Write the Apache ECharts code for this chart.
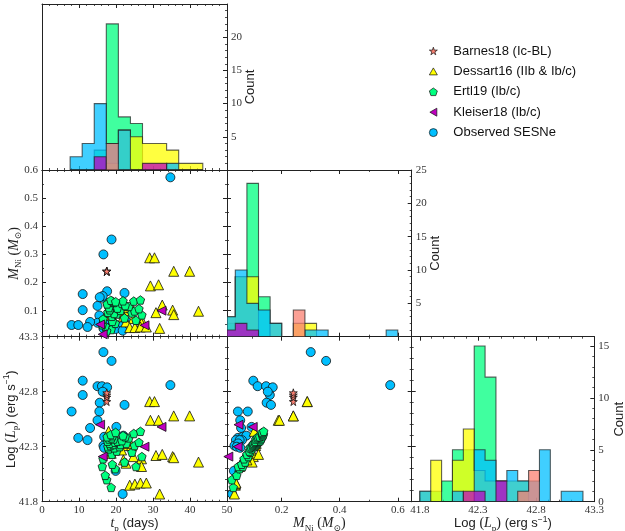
<!DOCTYPE html>
<html><head><meta charset="utf-8">
<script src="https://cdn.jsdelivr.net/npm/echarts@6/dist/echarts.min.js"></script>
<style>html,body{margin:0;padding:0;background:#fff}#c{width:625px;height:531px}</style>
</head><body><div id="c"></div>
<script>
// ================= DATA =================
const seriesNames = ['Barnes18 (Ic-BL)', 'Dessart16 (IIb & Ib/c)', 'Ertl19 (Ib/c)', 'Kleiser18 (Ib/c)', 'Observed SESNe'];

// points: [t_p (days), M_Ni (Msun), log L_p (erg/s)]
const barnesPts = [[17.5,0.240,42.71],[17.5,0.240,42.75],[17.5,0.240,42.77],[17.5,0.240,42.79]];
const dessartPts = [
  [29.1,0.288,42.71],[30.4,0.288,42.71],[35.6,0.240,42.58],[39.9,0.240,42.58],[29.3,0.188,42.54],
  [31.5,0.192,42.54],[30.8,0.093,42.22],[35.3,0.102,42.21],[35.6,0.086,42.20],[42.3,0.098,42.16],
  [24.7,0.072,42.21],[26.9,0.068,42.19],[22.7,0.060,42.15],[26.9,0.055,42.12],[23.7,0.040,41.95],
  [25.1,0.040,41.96],[26.6,0.042,41.97],[28.2,0.042,41.97],[31.8,0.037,41.87],[18.0,0.105,42.44],
  [18.7,0.085,42.24],[22.8,0.100,42.31],[24.2,0.110,42.31],[21.5,0.095,42.27],[23.0,0.112,42.33],
  [22.0,0.080,42.18],[32.5,0.120,42.23]
];
const ertlPts = [
  [18.7,0.033,41.93],[17.5,0.028,42.00],[17.1,0.045,42.04],[19.8,0.055,42.10],[16.3,0.050,42.12],
  [25.4,0.066,42.12],[19.0,0.062,42.14],[22.3,0.074,42.16],[16.5,0.070,42.19],[27.0,0.085,42.21],
  [18.9,0.080,42.23],[24.3,0.092,42.25],[20.2,0.088,42.26],[18.0,0.097,42.28],[19.5,0.090,42.29],
  [21.0,0.104,42.30],[17.8,0.094,42.30],[18.5,0.108,42.31],[25.0,0.099,42.31],[19.2,0.112,42.32],
  [21.2,0.101,42.32],[22.8,0.116,42.33],[18.3,0.103,42.33],[19.7,0.119,42.34],[26.2,0.107,42.34],
  [17.7,0.122,42.35],[20.4,0.109,42.35],[21.6,0.126,42.355],[18.1,0.111,42.37],[19.4,0.129,42.37],
  [23.5,0.115,42.38],[18.8,0.131,42.38],[22.5,0.118,42.39],[17.6,0.124,42.39],[19.1,0.133,42.40],
  [21.9,0.135,42.40],[18.6,0.137,42.41],[24.8,0.134,42.42],[19.9,0.132,42.43],[26.6,0.138,42.44]
];
const kleiserPts = [[15.7,0.051,42.50],[32.3,0.100,42.48],[27.7,0.048,42.30],[16.4,0.016,42.21]];
const observedPts = [
  [16.6,0.300,43.16],[18.8,0.353,43.08],[11.0,0.102,42.90],[11.0,0.159,42.77],[15.0,0.117,42.85],
  [16.2,0.146,42.85],[17.6,0.169,42.84],[16.4,0.152,42.80],[15.6,0.148,42.70],[15.5,0.083,42.62],
  [8.0,0.049,42.62],[22.3,0.163,42.68],[15.0,0.057,42.54],[34.7,0.574,42.86],[13.0,0.060,42.47],
  [20.1,0.096,42.48],[9.8,0.049,42.38],[12.3,0.042,42.36],[16.8,0.066,42.39],[22.0,0.078,42.40],
  [22.7,0.063,42.36],[18.7,0.055,42.36],[16.6,0.037,42.31],[19.8,0.050,42.33],[21.6,0.045,42.30],
  [16.8,0.057,42.29],[19.9,0.035,42.08],[21.8,0.029,41.87]
];

// histogram bins (start, width) and counts
const tpBinStart = 7.6, tpBinWidth = 3.26;
const tpHistErtl     = [0,0,3,22,8,7,0,0,0,0,0];
const tpHistDessart  = [0,0,0,1,6,5,4,4,3,1,1];
const tpHistObserved = [2,4,10,4,6,0,0,0,1,0,0];
const tpHistKleiser  = [0,0,2,0,0,0,1,1,0,0,0];
const tpHistBarnes   = [0,0,0,4,0,0,0,0,0,0,0];

const mniBinStart = 0.0, mniBinWidth = 0.04;
const mniHistErtl     = [2,9,23,6,0,0,0,0,0,0,0,0,0,0,0];
const mniHistDessart  = [3,9,9,0,2,0,2,2,0,0,0,0,0,0,0];
const mniHistObserved = [3,10,5,4,2,0,0,1,1,0,0,0,0,0,1];
const mniHistKleiser  = [1,2,1,0,0,0,0,0,0,0,0,0,0,0,0];
const mniHistBarnes   = [0,0,0,0,0,0,4,0,0,0,0,0,0,0,0];

const lpBinStart = 41.8, lpBinWidth = 0.0935;
const lpHistErtl     = [0,1,2,5,5,15,12,0,0,0,0,0,0,0,0];
const lpHistDessart  = [1,4,0,4,7,3,2,2,2,2,0,0,0,0,0];
const lpHistObserved = [1,0,0,1,0,5,4,2,3,2,2,5,0,1,1];
const lpHistKleiser  = [0,0,0,0,1,1,0,2,0,0,0,0,0,0,0];
const lpHistBarnes   = [0,0,0,0,0,0,0,0,0,1,3,0,0,0,0];

// axis ranges and tick labels
const tpRange = [0, 50];
const mniXRange = [0.0114, 0.648];
const mniYRange = [0.0075, 0.6];
const lpRange = [41.8, 43.3];
const lpHistRange = [41.73, 43.3];
const countTopRange = [0, 25];
const countMidRange = [0, 25];
const countLpRange = [0, 15.9];

const tpTickLabels = [0, 10, 20, 30, 40, 50];
const mniXTickLabels = [0.2, 0.4, 0.6];
const mniYTickLabels = [0.1, 0.2, 0.3, 0.4, 0.5, 0.6];
const lpTickLabels = [41.8, 42.3, 42.8, 43.3];
const countTopLabels = [5, 10, 15, 20];
const countMidLabels = [5, 10, 15, 20, 25];
const countLpLabels = [0, 5, 10, 15];

// ================= STYLE / LAYOUT =================
const SERIF = "'Liberation Serif','DejaVu Serif',serif";
const SANS = "'Liberation Sans','DejaVu Sans',sans-serif";
const AXC = '#222';
const COLORS = { barnes: '#FA8072', dessart: '#FFFF00', ertl: '#00FF7F', kleiser: '#BF00BF', observed: '#00BFFF' };
const HCOL = { barnes: 'rgba(250,128,114,0.75)', dessart: 'rgba(255,255,0,0.75)', ertl: 'rgba(0,255,127,0.75)', kleiser: 'rgba(191,0,191,0.75)', observed: 'rgba(0,191,255,0.75)' };
const SYM = {
  barnes: 'path://M50,0 L61.2,34.5 L97.6,34.5 L68.2,55.9 L79.4,90.5 L50,69.1 L20.6,90.5 L31.8,55.9 L2.4,34.5 L38.8,34.5 Z',
  dessart: 'path://M50,0 L100,87 L0,87 Z',
  ertl: 'path://M50,0 L97.6,34.5 L79.4,90.5 L20.6,90.5 L2.4,34.5 Z',
  kleiser: 'path://M0,50 L87,0 L87,100 Z',
  observed: 'circle'
};
const SYMSIZE = { barnes: 8, dessart: 10, ertl: 8.5, kleiser: 9, observed: 9 };

const cols = [[42, 185], [227, 184.7], [411.7, 182.6]];
const rows = [[4, 166], [170, 166.7], [336.7, 165]];
const gridDefs = [[0,0],[0,1],[1,1],[0,2],[1,2],[2,2]];
const grids = gridDefs.map(([c, r]) => ({ left: cols[c][0], top: rows[r][0], width: cols[c][1], height: rows[r][1], containLabel: false, outerBoundsMode: 'none' }));

function steps(min, max, step, base) {
  const out = [];
  const k0 = Math.ceil((min - base) / step - 1e-9);
  for (let k = k0; base + k * step <= max + 1e-9; k++) out.push(+(base + k * step).toFixed(6));
  return out;
}

const rich = {
  it: { fontFamily: SERIF, fontStyle: 'italic', fontSize: 14, lineHeight: 18, color: '#222' },
  rm: { fontFamily: SERIF, fontSize: 14, lineHeight: 18, color: '#222' },
  sb: { fontFamily: SERIF, fontSize: 9, lineHeight: 10, verticalAlign: 'bottom', color: '#222' },
  sa: { fontFamily: SANS, fontSize: 13, lineHeight: 18, color: '#222' },
  sp: { fontFamily: SANS, fontSize: 8.5, lineHeight: 10, verticalAlign: 'top', color: '#222' }
};
const NAME_TP = '{it|t}{sb|p}{sa| (days)}';
const NAME_MNI = '{it|M}{sb|Ni}{rm| (}{it|M}{sb|⊙}{rm|)}';
const NAME_LP = '{sa|Log }{rm|(}{it|L}{sb|p}{rm|)}{sa| (erg s}{sp|−1}{sa|)}';

const xAxis = [], yAxis = [];
function addAxis(list, dim, grid, pos, range, o) {
  const base = { type: 'value', gridIndex: grid, position: pos, min: range[0], max: range[1],
    splitLine: { show: false }, splitArea: { show: false }, minorTick: { show: false }, nameMoveOverlap: false };
  const maj = Object.assign({}, base, {
    axisLine: { show: true, onZero: false, lineStyle: { color: AXC, width: 1 } },
    axisTick: { show: !!o.major, inside: true, length: 4, customValues: o.major || [], lineStyle: { color: AXC, width: 1 } },
    axisLabel: o.labels ? { show: true, customValues: o.labels, formatter: o.fmt, margin: o.margin == null ? 4 : o.margin,
      fontFamily: SERIF, fontSize: 11, color: '#333', showMinLabel: true, showMaxLabel: true, hideOverlap: false } : { show: false }
  });
  if (o.name) {
    Object.assign(maj, { name: o.name, nameLocation: 'middle', nameGap: o.nameGap, nameRotate: o.nameRotate || 0,
      nameTextStyle: { rich: rich, fontFamily: SANS, fontSize: 13, color: '#222' } });
  }
  const idx = list.length;
  list.push(maj);
  if (o.minor) {
    list.push(Object.assign({}, base, {
      axisLine: { show: false, onZero: false },
      axisTick: { show: true, inside: true, length: 2, customValues: o.minor, lineStyle: { color: AXC, width: 0.8 } },
      axisLabel: { show: false }
    }));
  }
  return idx;
}
const fInt = v => String(Math.round(v));
const f1 = v => v.toFixed(1);

const tpMaj = steps(0, 50, 10, 0), tpMin = steps(0, 50, 2, 0);
const mniXMaj = steps(mniXRange[0], mniXRange[1], 0.2, 0), mniXMin = steps(mniXRange[0], mniXRange[1], 0.1, 0);
const mniYMaj = steps(mniYRange[0], mniYRange[1], 0.1, 0), mniYMin = steps(mniYRange[0], mniYRange[1], 0.05, 0);
const lpMaj = steps(lpRange[0], lpRange[1], 0.5, 41.8), lpMin = steps(lpRange[0], lpRange[1], 0.1, 41.8);
const lpHMaj = steps(lpHistRange[0], lpHistRange[1], 0.5, 41.8), lpHMin = steps(lpHistRange[0], lpHistRange[1], 0.1, 41.8);

const AX = [];
// grid 0: t_p histogram
AX[0] = {
  x: addAxis(xAxis, 'x', 0, 'bottom', tpRange, { major: tpMaj, minor: tpMin }),
  y: addAxis(yAxis, 'y', 0, 'right', countTopRange, { major: steps(0, 25, 5, 0), minor: steps(0, 25, 1, 0), labels: countTopLabels, fmt: fInt, name: 'Count', nameGap: 17, nameRotate: 90 })
};
addAxis(xAxis, 'x', 0, 'top', tpRange, { major: tpMaj, minor: tpMin });
addAxis(yAxis, 'y', 0, 'left', countTopRange, {});
// grid 1: M_Ni vs t_p
AX[1] = {
  x: addAxis(xAxis, 'x', 1, 'bottom', tpRange, { major: tpMaj, minor: tpMin }),
  y: addAxis(yAxis, 'y', 1, 'left', mniYRange, { major: mniYMaj, minor: mniYMin, labels: mniYTickLabels, fmt: f1, name: NAME_MNI, nameGap: 19, nameRotate: 90 })
};
addAxis(xAxis, 'x', 1, 'top', tpRange, { major: tpMaj, minor: tpMin });
addAxis(yAxis, 'y', 1, 'right', mniYRange, { major: mniYMaj, minor: mniYMin });
// grid 2: M_Ni histogram
AX[2] = {
  x: addAxis(xAxis, 'x', 2, 'bottom', mniXRange, { major: mniXMaj, minor: mniXMin }),
  y: addAxis(yAxis, 'y', 2, 'right', countMidRange, { major: steps(0, 25, 5, 0), minor: steps(0, 25, 1, 0), labels: countMidLabels, fmt: fInt, name: 'Count', nameGap: 17, nameRotate: 90 })
};
addAxis(xAxis, 'x', 2, 'top', mniXRange, { major: mniXMaj, minor: mniXMin });
addAxis(yAxis, 'y', 2, 'left', mniYRange, { major: mniYMaj, minor: mniYMin });
// grid 3: L_p vs t_p
AX[3] = {
  x: addAxis(xAxis, 'x', 3, 'bottom', tpRange, { major: tpMaj, minor: tpMin, labels: tpTickLabels, fmt: fInt, margin: 3, name: NAME_TP, nameGap: 13 }),
  y: addAxis(yAxis, 'y', 3, 'left', lpRange, { major: lpMaj, minor: lpMin, labels: lpTickLabels, fmt: f1, name: NAME_LP, nameGap: 22, nameRotate: 90 })
};
addAxis(xAxis, 'x', 3, 'top', tpRange, { major: tpMaj, minor: tpMin });
addAxis(yAxis, 'y', 3, 'right', lpRange, { major: lpMaj, minor: lpMin });
// grid 4: L_p vs M_Ni
AX[4] = {
  x: addAxis(xAxis, 'x', 4, 'bottom', mniXRange, { major: mniXMaj, minor: mniXMin, labels: mniXTickLabels, fmt: f1, margin: 3, name: NAME_MNI, nameGap: 13 }),
  y: addAxis(yAxis, 'y', 4, 'left', lpRange, { major: lpMaj, minor: lpMin })
};
addAxis(xAxis, 'x', 4, 'top', mniXRange, { major: mniXMaj, minor: mniXMin });
addAxis(yAxis, 'y', 4, 'right', lpRange, { major: lpMaj, minor: lpMin });
// grid 5: L_p histogram
AX[5] = {
  x: addAxis(xAxis, 'x', 5, 'bottom', lpHistRange, { major: lpHMaj, minor: lpHMin, labels: lpTickLabels, fmt: f1, margin: 3, name: NAME_LP, nameGap: 13 }),
  y: addAxis(yAxis, 'y', 5, 'right', countLpRange, { major: steps(0, 15, 5, 0), minor: steps(0, 15.9, 1, 0), labels: countLpLabels, fmt: fInt, name: 'Count', nameGap: 19, nameRotate: 90 })
};
addAxis(xAxis, 'x', 5, 'top', lpHistRange, { major: lpHMaj, minor: lpHMin });
addAxis(yAxis, 'y', 5, 'left', lpRange, { major: lpMaj, minor: lpMin });

// ================= SERIES =================
const series = [];
function histSeries(g, start, width, counts, key, xr) {
  series.push({
    type: 'custom', name: 'hist-' + key + '-' + g, xAxisIndex: AX[g].x, yAxisIndex: AX[g].y, clip: true, silent: true,
    data: [[Math.max(start, xr[0]), 0]],
    renderItem: function (params, api) {
      const pts = [];
      const cl = v => Math.min(Math.max(v, xr[0]), xr[1]);
      pts.push(api.coord([cl(start), 0]));
      counts.forEach((c, i) => {
        const e0 = cl(start + i * width), e1 = cl(start + (i + 1) * width);
        pts.push(api.coord([e0, c]));
        pts.push(api.coord([e1, c]));
      });
      pts.push(api.coord([cl(start + counts.length * width), 0]));
      return { type: 'polygon', shape: { points: pts },
        style: { fill: HCOL[key], stroke: 'rgba(30,30,30,0.7)', lineWidth: 1.1, lineJoin: 'miter' } };
    }
  });
}
const histOrder = [
  ['ertl', tpHistErtl, mniHistErtl, lpHistErtl],
  ['dessart', tpHistDessart, mniHistDessart, lpHistDessart],
  ['observed', tpHistObserved, mniHistObserved, lpHistObserved],
  ['kleiser', tpHistKleiser, mniHistKleiser, lpHistKleiser],
  ['barnes', tpHistBarnes, mniHistBarnes, lpHistBarnes]
];
histOrder.forEach(([key, tpc, mnc, lpc]) => {
  histSeries(0, tpBinStart, tpBinWidth, tpc, key, tpRange);
  histSeries(2, mniBinStart, mniBinWidth, mnc, key, mniXRange);
  histSeries(5, lpBinStart, lpBinWidth, lpc, key, lpHistRange);
});

const scatterSets = [
  ['observed', seriesNames[4], observedPts],
  ['dessart', seriesNames[1], dessartPts],
  ['ertl', seriesNames[2], ertlPts],
  ['kleiser', seriesNames[3], kleiserPts],
  ['barnes', seriesNames[0], barnesPts]
];
const panels = [[1, 0, 1], [3, 0, 2], [4, 1, 2]]; // grid, x column, y column
panels.forEach(([g, xi, yi]) => {
  scatterSets.forEach(([key, name, pts]) => {
    series.push({
      type: 'scatter', name: name, xAxisIndex: AX[g].x, yAxisIndex: AX[g].y,
      symbol: SYM[key], symbolSize: SYMSIZE[key],
      itemStyle: { color: COLORS[key], borderColor: '#111', borderWidth: 0.8, opacity: 1 },
      data: pts.map(p => [p[xi], p[yi]]),
      silent: true, clip: false
    });
  });
});

const legendKeys = ['barnes', 'dessart', 'ertl', 'kleiser', 'observed'];
const option = {
  animation: false,
  backgroundColor: '#fff',
  grid: grids,
  xAxis: xAxis,
  yAxis: yAxis,
  legend: {
    left: 424, top: 39, orient: 'vertical', itemWidth: 8, itemHeight: 8, itemGap: 6.4,
    selectedMode: false,
    textStyle: { fontFamily: SANS, fontSize: 13, color: '#111', lineHeight: 14, padding: [0, 0, 0, 11] },
    data: legendKeys.map((k, i) => ({ name: seriesNames[i], icon: SYM[k],
      itemStyle: { color: COLORS[k], borderColor: '#111', borderWidth: 0.7 } }))
  },
  series: series
};
const chart = echarts.init(document.getElementById('c'), null, { renderer: 'canvas' });
chart.setOption(option);
</script></body></html>
